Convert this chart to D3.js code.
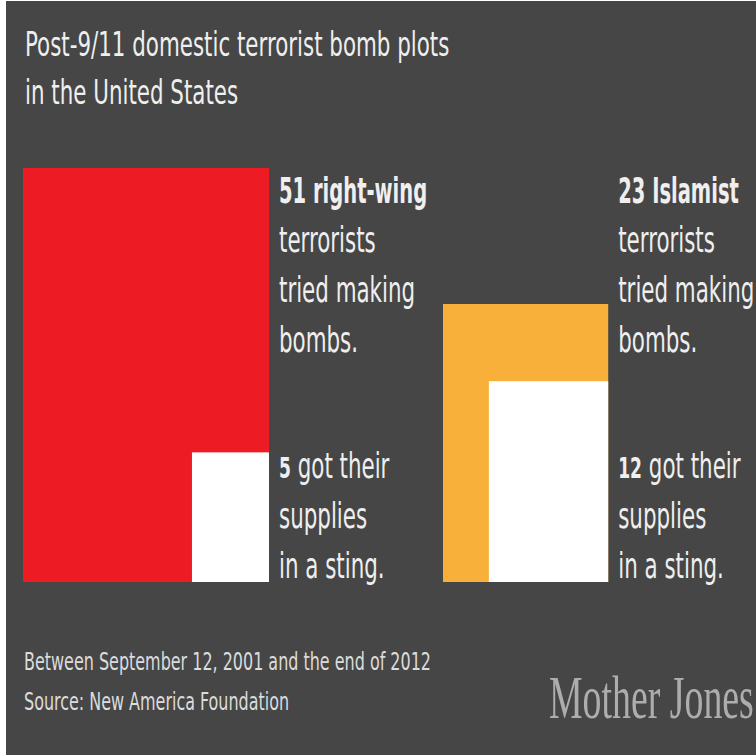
<!DOCTYPE html>
<html>
<head>
<meta charset="utf-8">
<script src="https://cdn.jsdelivr.net/npm/d3@7"></script>
<style>
  body { margin: 0; background: #fff; }
  svg { display: block; }
</style>
</head>
<body>
<svg width="756" height="755"></svg>
<script>
// groups and counts
var groups = ['right-wing', 'Islamist'];
var tried = [51, 23];
var sting = [5, 12];
var groupColors = ['#ed1c24', '#f9b03a'];

var titleLines = ['Post-9/11 domestic terrorist bomb plots', 'in the United States'];
var footLines = ['Between September 12, 2001 and the end of 2012', 'Source: New America Foundation'];

var svg = d3.select('svg');

svg.append('rect')
    .attr('x', 6).attr('y', 1)
    .attr('width', 750).attr('height', 754)
    .attr('fill', '#464646');

// side lengths follow the square root of the count (picture is stretched vertically)
var ScaleW = d3.scaleSqrt().domain([0, 51]).range([0, 246]);
var ScaleH = d3.scaleSqrt().domain([0, 51]).range([0, 414]);
var ScaleX = d3.scaleOrdinal().domain(groups).range([23, 443]);
var baseY = 582;

var sans = "'Liberation Sans Narrow', 'DejaVu Sans Condensed', sans-serif";
var squish = 0.68;

function addText(g, x, y, size, txt, opts) {
    opts = opts || {};
    return g.append('text')
        .attr('transform', 'translate(' + x + ',' + y + ') scale(' + (opts.sx || squish) + ',1)')
        .attr('font-family', opts.family || sans)
        .attr('font-size', size)
        .attr('font-weight', opts.weight || 'normal')
        .attr('fill', opts.fill || '#efefef')
        .text(txt);
}

// title
titleLines.forEach(function(t, i) {
    addText(svg, 25, 56 + i * 48, 34, t, {sx: 0.70});
});

var data = groups.map(function(g, i) {
    return {group: g, tried: tried[i], sting: sting[i], color: groupColors[i]};
});

var cells = svg.selectAll('g.cell')
    .data(data)
    .enter()
    .append('g')
    .attr('class', 'cell');

cells.append('rect')
    .attr('x', function(d) { return ScaleX(d.group); })
    .attr('y', function(d) { return baseY - ScaleH(d.tried); })
    .attr('width', function(d) { return ScaleW(d.tried); })
    .attr('height', function(d) { return ScaleH(d.tried); })
    .attr('fill', function(d) { return d.color; });

cells.append('rect')
    .attr('x', function(d) { return ScaleX(d.group) + ScaleW(d.tried) - ScaleW(d.sting); })
    .attr('y', function(d) { return baseY - ScaleH(d.sting); })
    .attr('width', function(d) { return ScaleW(d.sting); })
    .attr('height', function(d) { return ScaleH(d.sting); })
    .attr('fill', '#ffffff');

// labels to the right of each square
cells.each(function(d) {
    var g = d3.select(this);
    var lx = ScaleX(d.group) + ScaleW(d.tried) + 10;
    addText(g, lx, 203, 35, d.tried + ' ' + d.group, {weight: 'bold', sx: 0.62});
    ['terrorists', 'tried making', 'bombs.'].forEach(function(t, i) {
        addText(g, lx, 252 + i * 50, 35, t);
    });
    var s = addText(g, lx, 478, 35, '');
    s.append('tspan').attr('font-weight', 'bold').attr('font-size', 28).text(d.sting);
    s.append('tspan').text(' got their');
    addText(g, lx, 528, 35, 'supplies');
    addText(g, lx, 578, 35, 'in a sting.');
});

// footer
footLines.forEach(function(t, i) {
    addText(svg, 24, 670 + i * 40, 25, t, {fill: '#dcdcdc', sx: 0.71});
});

addText(svg, 549, 718, 62, 'Mother Jones', {family: "'Liberation Serif', 'DejaVu Serif', serif", fill: '#adadad', sx: 0.61});
</script>
</body>
</html>
